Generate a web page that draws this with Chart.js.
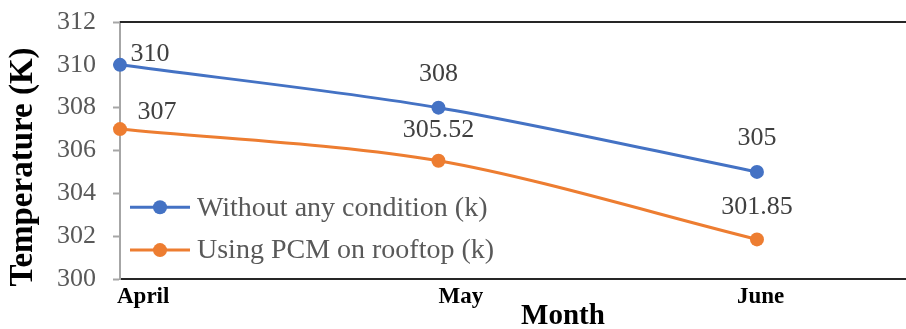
<!DOCTYPE html>
<html>
<head>
<meta charset="utf-8">
<script src="https://cdn.jsdelivr.net/npm/chart.js@4.4.1/dist/chart.umd.min.js"></script>
<style>
  html, body { margin: 0; padding: 0; background: #fff; overflow: hidden; }
  #wrap { width: 906px; height: 329px; overflow: hidden; }
</style>
</head>
<body>
<div id="wrap"><canvas id="chart" width="913" height="329"></canvas></div>
<script>
const months = ['April', 'May', 'June'];
const withoutCondition = [310, 308, 305];
const usingPCM = [307, 305.52, 301.85];
const seriesNames = ['Without any condition (k)', 'Using PCM on rooftop (k)'];
const yTicks = [300, 302, 304, 306, 308, 310, 312];

const SERIF = '"Liberation Serif", "DejaVu Serif", serif';
const BLUE = '#4472c4';
const ORANGE = '#ed7d31';

const toPoints = (vals) => vals.map((v, i) => ({ x: i, y: v }));

// label nudges (dx, dy from the point) per series / per month
const labelNudge = [
    [[30, -11], [0, -33], [0, -34]],
    [[37, -17], [0, -31], [0, -32]]
];
const monthNudge = [-3, 0, -20];

const overlay = {
    id: 'overlay',
    afterDraw(chart) {
        const { ctx, chartArea, scales } = chart;
        ctx.save();

        // top frame line
        ctx.strokeStyle = '#262626';
        ctx.lineWidth = 2;
        ctx.beginPath();
        ctx.moveTo(chartArea.left, chartArea.top);
        ctx.lineTo(chartArea.right, chartArea.top);
        ctx.stroke();

        // data labels
        ctx.font = '26px ' + SERIF;
        ctx.fillStyle = '#404040';
        ctx.textAlign = 'center';
        ctx.textBaseline = 'middle';
        chart.data.datasets.forEach((ds, di) => {
            chart.getDatasetMeta(di).data.forEach((pt, i) => {
                const [dx, dy] = labelNudge[di][i];
                ctx.fillText(String(ds.data[i].y), pt.x + dx, pt.y + dy);
            });
        });

        // legend inside the plot
        const legendY = [scales.y.getPixelForValue(303.35), scales.y.getPixelForValue(301.35)];
        chart.data.datasets.forEach((ds, di) => {
            const y = legendY[di];
            const x0 = chartArea.left + 10;
            ctx.strokeStyle = ds.borderColor;
            ctx.lineWidth = 3;
            ctx.beginPath();
            ctx.moveTo(x0, y);
            ctx.lineTo(x0 + 60, y);
            ctx.stroke();
            ctx.fillStyle = ds.borderColor;
            ctx.beginPath();
            ctx.arc(x0 + 30, y, 7, 0, Math.PI * 2);
            ctx.fill();
            ctx.fillStyle = '#595959';
            ctx.font = '28px ' + SERIF;
            ctx.textAlign = 'left';
            ctx.fillText(ds.label, x0 + 67, y + 1);
        });

        // month labels
        ctx.fillStyle = '#000';
        ctx.font = 'bold 23px ' + SERIF;
        ctx.textAlign = 'left';
        ctx.textBaseline = 'middle';
        months.forEach((m, i) => {
            ctx.fillText(m, scales.x.getPixelForValue(i) + monthNudge[i], chartArea.bottom + 18);
        });

        // axis titles
        ctx.font = 'bold 29px ' + SERIF;
        ctx.textAlign = 'center';
        ctx.fillText('Month', 563, 317);
        ctx.translate(23, 167);
        ctx.rotate(-Math.PI / 2);
        ctx.font = 'bold 33px ' + SERIF;
        ctx.fillText('Temperature (K)', 0, 0);
        ctx.restore();
    }
};

new Chart(document.getElementById('chart'), {
    type: 'line',
    data: {
        datasets: [
            {
                label: seriesNames[0],
                data: toPoints(withoutCondition),
                borderColor: BLUE,
                backgroundColor: BLUE,
                borderWidth: 3,
                pointRadius: 7,
                pointHoverRadius: 7,
                pointBorderWidth: 0,
                tension: 0.3,
                clip: false
            },
            {
                label: seriesNames[1],
                data: toPoints(usingPCM),
                borderColor: ORANGE,
                backgroundColor: ORANGE,
                borderWidth: 3,
                pointRadius: 7,
                pointHoverRadius: 7,
                pointBorderWidth: 0,
                tension: 0.3,
                clip: false
            }
        ]
    },
    options: {
        responsive: false,
        animation: false,
        events: [],
        layout: { padding: { top: 22, right: 0, left: 0, bottom: 0 } },
        plugins: { legend: { display: false }, tooltip: { enabled: false } },
        scales: {
            x: {
                type: 'linear',
                min: 0,
                max: 2.468,
                afterFit: (s) => {
                    s.height = 50;
                    s.paddingLeft = 0;
                    s.paddingRight = 0;
                },
                afterBuildTicks: (s) => { s.ticks = [0, 1, 2].map(v => ({ value: v })); },
                grid: { display: false },
                ticks: { display: false },
                border: { color: '#262626', width: 2 }
            },
            y: {
                min: 300,
                max: 312,
                afterFit: (s) => {
                    s.width = 120;
                    s.paddingTop = 0;
                    s.paddingBottom = 0;
                },
                afterBuildTicks: (s) => { s.ticks = yTicks.map(v => ({ value: v })); },
                grid: { drawOnChartArea: false, tickLength: 7, color: '#a6a6a6', tickWidth: 2 },
                border: { color: '#a6a6a6', width: 2 },
                ticks: {
                    color: '#595959',
                    padding: 17,
                    font: { family: SERIF, size: 26 }
                }
            }
        }
    },
    plugins: [overlay]
});
</script>
</body>
</html>
